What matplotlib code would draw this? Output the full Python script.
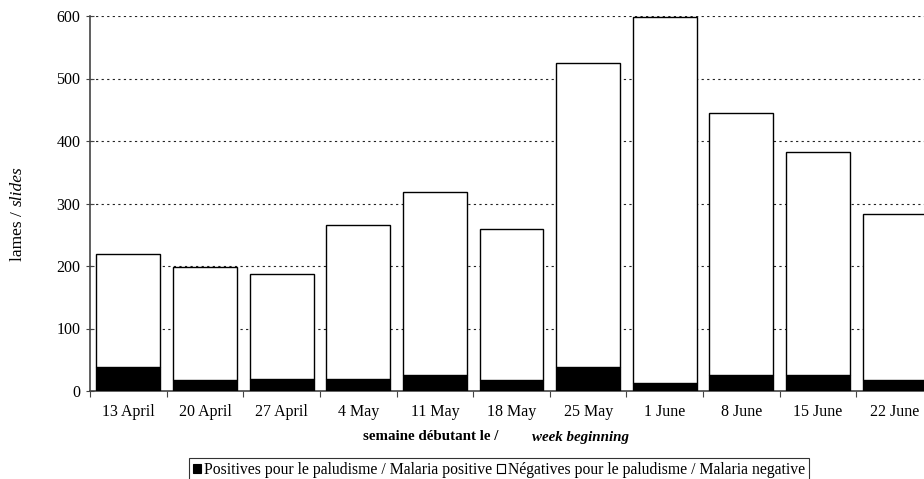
import matplotlib
matplotlib.use("Agg")
import matplotlib.pyplot as plt
from matplotlib.patches import Patch
import numpy as np

weeks = ["13 April", "20 April", "27 April", "4 May", "11 May", "18 May",
         "25 May", "1 June", "8 June", "15 June", "22 June"]
positive = [38, 18, 20, 20, 25, 18, 38, 13, 25, 25, 18]
total = [219, 199, 187, 265, 318, 259, 525, 599, 445, 382, 283]
negative = [t - p for t, p in zip(total, positive)]

plt.rcParams['font.family'] = ['Liberation Serif', 'DejaVu Serif']

W, H = 924, 479
fig = plt.figure(figsize=(W / 100, H / 100), dpi=100)
x0, x1 = 90, 933
y0, y1 = 391, 16
ax = fig.add_axes([x0 / W, 1 - y0 / H, (x1 - x0) / W, (y0 - y1) / H])

x = np.arange(len(weeks))
bw = 0.835
ax.bar(x, positive, bw, color='black', edgecolor='black', linewidth=1.0, zorder=3)
ax.bar(x, negative, bw, bottom=positive, color='white', edgecolor='black',
       linewidth=1.0, zorder=3)

ax.set_xlim(-0.5, len(weeks) - 0.5)
ax.set_ylim(0, 600)
ax.set_yticks(np.arange(0, 601, 100))
ax.yaxis.grid(True, color='#222222', linestyle=(0, (2, 3)), linewidth=0.8)
ax.set_axisbelow(True)

ax.set_xticks(np.arange(-0.5, len(weeks), 1.0))
ax.set_xticklabels([])
ax.set_xticks(x, minor=True)
ax.set_xticklabels(weeks, minor=True, fontsize=11.5)
ax.tick_params(axis='x', which='minor', length=0, pad=9)
ax.tick_params(axis='x', which='major', length=4, direction='out', color='#444444')
ax.tick_params(axis='y', length=6, direction='inout', labelsize=11.5, color='#444444', pad=4)

for s in ['top', 'right']:
    ax.spines[s].set_visible(False)
ax.spines['left'].set_color('#444444')
ax.spines['bottom'].set_color('#444444')
ax.spines['left'].set_linewidth(1.2)
ax.spines['bottom'].set_linewidth(1.2)

# x-axis title
fig.text(498 / W, 1 - 437 / H, "semaine débutant le /", ha='right', va='center',
         fontsize=10.8, fontweight='bold')
fig.text(532 / W, 1 - 437 / H, "week beginning", ha='left', va='center',
         fontsize=10.8, fontweight='bold', style='italic')

# y-axis title (reads bottom to top: "lames / slides")
fig.text(18 / W, 1 - 211 / H, "lames /", rotation=90, ha='center', va='top',
         fontsize=12.5)
fig.text(18 / W, 1 - 206 / H, "slides", rotation=90, ha='center', va='bottom',
         fontsize=12.5, style='italic')

handles = [Patch(facecolor='black', edgecolor='black', linewidth=0.8),
           Patch(facecolor='white', edgecolor='black', linewidth=0.8)]
labels = ["Positives pour le paludisme / Malaria positive",
          "Négatives pour le paludisme / Malaria negative"]
leg = fig.legend(handles, labels, loc='upper center', ncol=2,
                 bbox_to_anchor=(499 / W, 1 - 458 / H), fontsize=11.3,
                 frameon=True, fancybox=False, handlelength=0.5, handleheight=0.5,
                 handletextpad=0.2, columnspacing=0.3, borderpad=0.25,
                 borderaxespad=0)
leg.get_frame().set_edgecolor('black')
leg.get_frame().set_linewidth(0.8)

fig.savefig("out.png", dpi=100)
